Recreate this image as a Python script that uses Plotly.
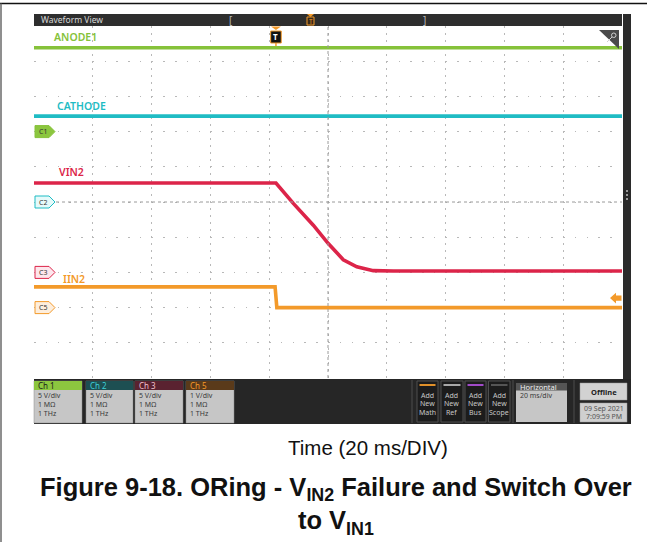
import plotly.graph_objects as go

W, H = 647, 542

# ---------------- waveform data (time in ms, 0 = trigger) ----------------
anode1_t = [-83, 118]
anode1_v = [11.9, 11.9]
cathode_t = [-83, 118]
cathode_v = [12.2, 12.2]
vin2_t = [-83, 0.0, 5.9, 12.7, 17.8, 22.9, 27.5, 33.1, 39.9, 118]
vin2_v = [12.7, 12.7, 9.8, 6.7, 4.1, 1.8, 0.8, 0.25, 0.2, 0.2]
iin2_t = [-83, -0.3, 0.3, 118]
iin2_i = [0.59, 0.59, 0.0, 0.0]

# ---------------- scope channel settings ----------------
ch_names = ["Ch 1", "Ch 2", "Ch 3", "Ch 5"]
ch_tags = ["C1", "C2", "C3", "C5"]
ch_scale = [5, 5, 5, 1]            # units per division
ch_offset = [2, 0, -2, -3]         # ground position in divisions
ch_scale_text = ["5 V/div", "5 V/div", "5 V/div", "1 V/div"]
ch_imp_text = ["1 MΩ", "1 MΩ", "1 MΩ", "1 MΩ"]
ch_bw_text = ["1 THz", "1 THz", "1 THz", "1 THz"]
trace_labels = ["ANODE1", "CATHODE", "VIN2", "IIN2"]
ch_colors = ["#86c23a", "#1fbcc4", "#dc2449", "#f39a2a"]
ch_head_bg = ["#8cc63f", "#1d4f52", "#5a2230", "#5a3a1a"]
ch_head_fg = ["#1a1a1a", "#3fd0d6", "#f0c0cc", "#f39a2a"]
ch_tag_fill = ["#8cc63f", "#e6fafa", "#fde6ec", "#fdeedd"]

time_per_div = 20                  # ms/div
t_left = -82.3                     # left edge of record relative to trigger
trigger_level = 0.27               # A, on Ch 5
horizontal_text = "20 ms/div"
date_text = ["09 Sep 2021", "7:09:59 PM"]

UI_FONT = "Noto Sans"
CAP_FONT = "Liberation Sans, Arial"

# plot-area pixel box
PX0, PX1, PY0, PY1 = 34, 622, 26, 378


def fx(x):
    return x / W


def fy(y):
    return 1 - y / H


shapes = []
annotations = []


def rect(x0, y0, x1, y1, fill, line_color=None, lw=0, layer="above"):
    shapes.append(dict(type="rect", xref="paper", yref="paper",
                       x0=fx(x0), x1=fx(x1), y0=fy(y1), y1=fy(y0),
                       fillcolor=fill, layer=layer,
                       line=dict(color=line_color or fill, width=lw)))


def seg(x0, y0, x1, y1, color, lw=1, dash="solid"):
    shapes.append(dict(type="line", xref="paper", yref="paper",
                       x0=fx(x0), x1=fx(x1), y0=fy(y0), y1=fy(y1),
                       line=dict(color=color, width=lw, dash=dash)))


def txt(x, y, s, size, color, anchor="left", family=UI_FONT, weight="normal"):
    annotations.append(dict(x=fx(x), y=fy(y), xref="paper", yref="paper",
                            text=s, showarrow=False,
                            xanchor=anchor, yanchor="middle",
                            font=dict(size=size, color=color, family=family,
                                      weight=weight)))


fig = go.Figure()

series = [(anode1_t, anode1_v), (cathode_t, cathode_v), (vin2_t, vin2_v), (iin2_t, iin2_i)]
for i, (t, v) in enumerate(series):
    fig.add_trace(go.Scatter(x=t, y=v, mode="lines", yaxis=f"y{i + 2}",
                             line=dict(color=ch_colors[i], width=3.6),
                             hoverinfo="skip", showlegend=False))

# ---------------- axes ----------------
layout_axes = dict(
    xaxis=dict(domain=[fx(PX0), fx(PX1)], range=[t_left, t_left + 10 * time_per_div],
               tick0=t_left, dtick=time_per_div, showgrid=True, gridcolor="#b8b8b8",
               gridwidth=1, griddash="1.5px,5.5px", showticklabels=False,
               zeroline=False, showline=False, ticks="", fixedrange=True),
    yaxis=dict(domain=[fy(PY1), fy(PY0)], range=[-5, 5], dtick=1,
               showgrid=True, gridcolor="#b8b8b8", gridwidth=1,
               griddash="1.5px,10.26px", showticklabels=False,
               zeroline=False, showline=False, ticks="", fixedrange=True),
)
for i in range(4):
    lo = (-5 - ch_offset[i]) * ch_scale[i]
    hi = (5 - ch_offset[i]) * ch_scale[i]
    layout_axes[f"yaxis{i + 2}"] = dict(overlaying="y", range=[lo, hi], visible=False,
                                        fixedrange=True)

# centre cross-hair (vertical) and C2 reference level
t_mid = t_left + 5 * time_per_div
shapes.append(dict(type="line", xref="x", yref="paper", x0=t_mid, x1=t_mid,
                   y0=fy(PY1), y1=fy(PY0), line=dict(color="#9a9a9a", width=1, dash="3px,3px")))
shapes.append(dict(type="line", xref="paper", yref="y", x0=fx(56), x1=fx(PX1),
                   y0=ch_offset[1], y1=ch_offset[1],
                   line=dict(color="#9a9a9a", width=1, dash="3px,3px")))

# ---------------- channel tags on the left edge ----------------
hdiv = 6 / 35.2
for i in range(4):
    yo = ch_offset[i]
    x0, x1, x2 = fx(35), fx(49), fx(55)
    path = (f"M{x0},{yo + hdiv} L{x1},{yo + hdiv} L{x2},{yo} "
            f"L{x1},{yo - hdiv} L{x0},{yo - hdiv} Z")
    shapes.append(dict(type="path", xref="paper", yref="y", path=path,
                       fillcolor=ch_tag_fill[i], line=dict(color=ch_colors[i], width=1)))
    annotations.append(dict(x=fx(43), y=yo, xref="paper", yref="y", text=ch_tags[i],
                            showarrow=False, xanchor="center", yanchor="middle",
                            font=dict(size=7, color="#333333", family=UI_FONT)))

# ---------------- trace labels ----------------
label_pos = [(52, 37), (55, 106), (57, 172), (61, 279)]
for i, (lx, ly) in enumerate(label_pos):
    txt(lx, ly, trace_labels[i], 10.5, ch_colors[i], weight=600)

# ---------------- scope frame ----------------
# title bar
rect(PX0, 14, PX1, PY0, "#2e2e2e")
txt(39, 20, "Waveform View", 8.5, "#d8d8d8")
txt(231, 19.5, "[", 10, "#bbbbbb", anchor="center")
txt(424, 19.5, "]", 10, "#bbbbbb", anchor="center")
# record-view trigger marker
shapes.append(dict(type="path", xref="paper", yref="paper",
                   path=f"M{fx(307)},{fy(14)} L{fx(314)},{fy(14)} L{fx(310.5)},{fy(17)} Z",
                   fillcolor="#f39a2a", line=dict(width=0)))
rect(307, 17, 314, 25, "#3a2a1a", "#f39a2a", 1)
txt(310.5, 21, "T", 6.5, "#f39a2a", anchor="center")

# right side bar
rect(PX1 + 1, 14, 631, 424, "#2b2b2b")
for yy in (191, 195, 199):
    rect(626, yy - 1, 628, yy + 1, "#9a9a9a")

# key corner
shapes.append(dict(type="path", xref="paper", yref="paper",
                   path=f"M{fx(599)},{fy(30)} L{fx(619)},{fy(30)} L{fx(619)},{fy(49)} Z",
                   fillcolor="#4a4a4a", line=dict(width=0)))
shapes.append(dict(type="circle", xref="paper", yref="paper",
                   x0=fx(611.5), x1=fx(616), y0=fy(37.5), y1=fy(33),
                   line=dict(color="#d0d0d0", width=1)))
seg(612, 37, 607, 42, "#d0d0d0", 1)

# trigger marker on the waveform area (at t = 0)
shapes.append(dict(type="path", xref="x", yref="paper",
                   path=f"M{-1.7},{fy(26.5)} L{1.7},{fy(26.5)} L0,{fy(30)} Z",
                   fillcolor="#f39a2a", line=dict(width=0)))
shapes.append(dict(type="rect", xref="x", yref="paper", x0=-1.8, x1=1.8,
                   y0=fy(43), y1=fy(31), fillcolor="#111111",
                   line=dict(color="#f39a2a", width=1)))
shapes.append(dict(type="line", xref="x", yref="paper", x0=0, x1=0,
                   y0=fy(43), y1=fy(46), line=dict(color="#f39a2a", width=1.5)))
annotations.append(dict(x=0, y=fy(37), xref="x", yref="paper", text="<b>T</b>",
                        showarrow=False, xanchor="center", yanchor="middle",
                        font=dict(size=8, color="#ffffff", family=UI_FONT)))

# trigger level arrow on the right edge (Ch 5 units)
ah = 0.15
shapes.append(dict(type="path", xref="paper", yref="y5",
                   path=(f"M{fx(610)},{trigger_level} L{fx(616)},{trigger_level + ah} "
                         f"L{fx(616)},{trigger_level + ah / 2} L{fx(621.5)},{trigger_level + ah / 2} "
                         f"L{fx(621.5)},{trigger_level - ah / 2} L{fx(616)},{trigger_level - ah / 2} "
                         f"L{fx(616)},{trigger_level - ah} Z"),
                   fillcolor="#f39a2a", line=dict(width=0)))

# ---------------- bottom control strip ----------------
rect(PX0, 379, 631, 424, "#262626")
ch_boxes = [(34, 82), (86, 133), (135, 183), (186, 234)]
for i, (bx0, bx1) in enumerate(ch_boxes):
    rect(bx0, 381, bx1, 423, "#c6c6c6", "#8a8a8a", 0.5)
    rect(bx0, 381, bx1, 390, ch_head_bg[i])
    txt(bx0 + 2, 385.8, ch_names[i], 8, ch_head_fg[i])
    txt(bx0 + 1.5, 395.5, ch_scale_text[i], 7, "#3a3a3a")
    txt(bx0 + 1.5, 404.3, ch_imp_text[i], 7, "#3a3a3a")
    txt(bx0 + 1.5, 413.2, ch_bw_text[i], 7, "#3a3a3a")

for sx in (412, 513, 574):
    seg(sx, 380, sx, 423, "#4c4c4c", 1)

add_buttons = [("Math", "#e0902a", 417, 438), ("Ref", "#a8a8a8", 441, 463),
               ("Bus", "#a14bc8", 465, 486), ("Scope", "#555555", 488.5, 510)]
for name, bar, bx0, bx1 in add_buttons:
    rect(bx0, 381, bx1, 422, "#1c1c1c", "#4e4e4e", 1)
    rect(bx0 + 2.5, 384, bx1 - 2.5, 386, bar)
    cx = (bx0 + bx1) / 2
    txt(cx, 395, "Add", 7, "#c8c8c8", anchor="center")
    txt(cx, 403.5, "New", 7, "#c8c8c8", anchor="center")
    txt(cx, 412, name, 7, "#c8c8c8", anchor="center")

rect(516, 383, 567, 422, "#c6c6c6")
rect(516, 383, 567, 390.5, "#555555")
txt(518, 386.8, "Horizontal", 7.5, "#f0f0f0")
txt(518, 395.5, horizontal_text, 7, "#3a3a3a")

rect(580, 383, 627, 400, "#d2d2d2", "#9a9a9a", 0.5)
txt(603.5, 391.5, "<b>Offline</b>", 7.5, "#222222", anchor="center")
rect(580, 403, 627, 422, "#cfcfcf", "#9a9a9a", 0.5)
txt(603.5, 408, date_text[0], 7, "#555555", anchor="center")
txt(603.5, 416, date_text[1], 7, "#555555", anchor="center")

# ---------------- page frame and caption ----------------
seg(0, 3.5, W, 3.5, "#111111", 1.5)
seg(1, 3.5, 1, H, "#6a6a6a", 1.5)

txt(368, 447, "Time (20 ms/DIV)", 20.5, "#111111", anchor="center", family=CAP_FONT)
annotations.append(dict(
    x=fx(336), y=fy(506), xref="paper", yref="paper", showarrow=False,
    xanchor="center", yanchor="middle", align="center",
    text=("<b>Figure 9-18. ORing - V<sub>IN2</sub> Failure and Switch Over</b><br>"
          "<b>to V<sub>IN1</sub></b>"),
    font=dict(size=25.5, color="#111111", family=CAP_FONT)))

fig.update_layout(
    width=W, height=H, margin=dict(l=0, r=0, t=0, b=0),
    paper_bgcolor="#ffffff", plot_bgcolor="#ffffff",
    showlegend=False, shapes=shapes, annotations=annotations,
    **layout_axes,
)

fig.write_html("out.html", config={"displayModeBar": False})
